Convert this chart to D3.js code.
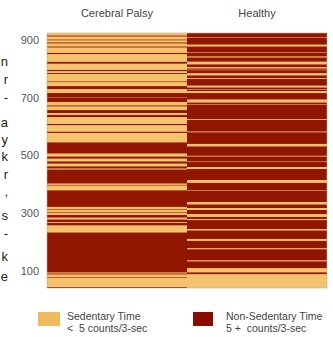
<!DOCTYPE html>
<html>
<head>
<meta charset="utf-8">
<script src="https://cdn.jsdelivr.net/npm/d3@7"></script>
<style>
  html, body { margin: 0; padding: 0; background: #fff; }
  svg { display: block; font-family: "Liberation Sans", Arial, sans-serif; }
</style>
</head>
<body>
<div id="chart"></div>
<script>
// groups and y ticks
const groups = ['Cerebral Palsy', 'Healthy'];
const yTicks = [100, 300, 500, 700, 900];

// Cerebral Palsy: non-sedentary bouts [from, to] drawn over sedentary background
const cpActiveBouts = [
  [912, 915], [899, 901], [888, 891], [874, 877], [851, 855], [818, 824],
  [792, 796], [782, 785], [754, 756], [730, 740], [701, 716], [685, 700],
  [670, 673], [647, 657], [633, 640], [605, 609], [578, 582], [507, 545],
  [489, 496], [472, 479], [455, 462], [403, 451], [396, 398], [322, 379],
  [311, 313], [302, 304], [285, 294], [269, 278], [258, 266], [95, 233],
  [88, 91], [77, 79], [41, 44],
];

// Healthy: sedentary bouts [from, to] drawn over non-sedentary background
const healthyRestBouts = [
  [907, 909], [877, 884], [856, 858], [839, 843], [815, 825], [801, 806],
  [795, 797], [777, 785], [765, 768], [735, 742], [728, 730], [716, 723],
  [683, 694], [676, 678], [623, 626], [580, 583], [531, 540], [496, 499],
  [477, 479], [453, 460], [405, 415], [378, 380], [330, 339], [311, 318],
  [287, 297], [276, 280], [240, 245], [204, 211], [175, 179], [133, 137],
  [95, 110], [41, 89],
];

// legend entries
const legendLabels = ['Sedentary Time', 'Non-Sedentary Time'];
const legendNotes = ['<  5 counts/3-sec', '5 +  counts/3-sec'];

// cut-off ends of the neighbouring paragraph
const marginLetters = ['n', 'r', '-', 'a', 'y', 'k', 'r', ',', 's', '-', 'k', 'e'];
const marginBaselines = [66, 84, 102, 127, 144, 161, 179, 196, 220, 238, 261, 281];

const width = 333;
const height = 337;
const lightColor = '#f5c36d';
const darkColor = '#911300';

const svg = d3.select('#chart').append('svg').attr('width', width).attr('height', height);

// soft vertical blur, the stripes in the original are not crisp
svg.append('defs')
  .append('filter')
  .attr('id', 'soft')
  .attr('x', 0).attr('y', 0).attr('width', 1).attr('height', 1)
  .append('feGaussianBlur')
  .attr('stdDeviation', '0 0.45');

const xScale = d3.scaleBand().domain(groups).range([47, 327]).padding(0);
const yScale = d3.scaleLinear().domain([41, 924]).range([288, 33]);

const columns = [
  { name: groups[0], base: lightColor, fill: darkColor, bouts: cpActiveBouts },
  { name: groups[1], base: darkColor, fill: lightColor, bouts: healthyRestBouts },
];

columns.forEach((col) => {
  const g = svg.append('g').attr('filter', 'url(#soft)');
  g.append('rect')
    .attr('x', xScale(col.name))
    .attr('y', yScale(924))
    .attr('width', xScale.bandwidth())
    .attr('height', yScale(41) - yScale(924))
    .attr('fill', col.base);

  g.selectAll('rect.bout')
    .data(col.bouts)
    .enter()
    .append('rect')
    .attr('class', 'bout')
    .attr('x', xScale(col.name))
    .attr('y', (d) => yScale(d[1]))
    .attr('width', xScale.bandwidth())
    .attr('height', (d) => yScale(d[0]) - yScale(d[1]))
    .attr('fill', col.fill);

  svg.append('text')
    .attr('x', xScale(col.name) + xScale.bandwidth() / 2)
    .attr('y', 17)
    .attr('text-anchor', 'middle')
    .style('font-size', '11px')
    .style('fill', '#444')
    .text(col.name);
});

// frame
svg.append('rect')
  .attr('x', 47)
  .attr('y', yScale(924))
  .attr('width', 280)
  .attr('height', yScale(41) - yScale(924))
  .attr('fill', 'none')
  .attr('stroke', '#b9aca0')
  .attr('stroke-width', 0.6);

// y axis, labels only
const yAxis = d3.axisLeft(yScale).tickValues(yTicks).tickSize(0).tickPadding(8);
const yAxisSel = svg.append('g')
  .attr('transform', 'translate(47,0)')
  .attr('color', '#555')
  .call(yAxis);
yAxisSel.select('.domain').remove();
yAxisSel.selectAll('text')
  .attr('fill', '#555')
  .style('font-size', '11px')
  .style('font-family', '"Liberation Sans", Arial, sans-serif');

// legend
const legendX = [38, 193];
legendLabels.forEach((label, i) => {
  svg.append('rect')
    .attr('x', legendX[i])
    .attr('y', 312)
    .attr('width', i === 0 ? 22 : 20)
    .attr('height', 14)
    .attr('fill', i === 0 ? '#f0ba60' : '#8a0c00');
  svg.append('text')
    .attr('x', legendX[i] + 29 + (i === 1 ? 4 : 0))
    .attr('y', 319.5)
    .style('font-size', '10.5px')
    .style('fill', '#444')
    .text(label);
  svg.append('text')
    .attr('x', legendX[i] + 29 + (i === 1 ? 4 : 0))
    .attr('y', 332)
    .style('font-size', '10.5px')
    .style('fill', '#444')
    .style('white-space', 'pre')
    .text(legendNotes[i]);
});

// margin text fragments
svg.selectAll('text.frag')
  .data(marginLetters)
  .enter()
  .append('text')
  .attr('class', 'frag')
  .attr('x', 8)
  .attr('y', (d, i) => marginBaselines[i])
  .attr('text-anchor', 'end')
  .style('font-size', '13px')
  .style('fill', '#222')
  .text((d) => d);
</script>
</body>
</html>
